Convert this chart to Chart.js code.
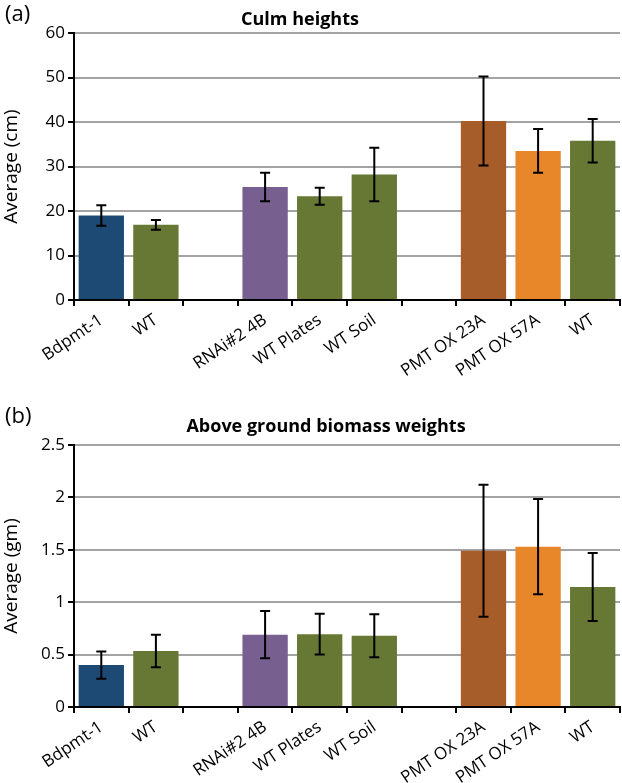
<!DOCTYPE html>
<html lang="en">
<head>
  <meta charset="UTF-8">
  <title>Culm heights and biomass</title>
  <style>
    body {
      margin: 0;
      background: #fff;
      font-family: "Open Sans", Arial, sans-serif;
    }
    .box {
      position: relative;
      width: 622px;
    }
    #boxA { height: 395px; }
    #boxB { height: 388px; }
  </style>
</head>
<body>
  <div class="box" id="boxA"><canvas id="chartA"></canvas></div>
  <div class="box" id="boxB"><canvas id="chartB"></canvas></div>

  <script src="https://cdn.jsdelivr.net/npm/chart.js"></script>
  <script>
    // categories (empty strings are the gaps between groups)
    const lines = ['Bdpmt-1', 'WT', '', 'RNAi#2 4B', 'WT Plates', 'WT Soil', '', 'PMT OX 23A', 'PMT OX 57A', 'WT'];
    const barColors = ['#1d4a74', '#677835', null, '#77608f', '#677835', '#677835', null, '#a65d29', '#e8862a', '#677835'];

    // (a) culm heights, cm
    const culmHeights = [19.0, 16.9, null, 25.4, 23.3, 28.2, null, 40.2, 33.5, 35.8];
    const culmErrors  = [2.3, 1.1, null, 3.2, 1.9, 6.0, null, 10.0, 4.9, 4.9];
    const culmTicks = [0, 10, 20, 30, 40, 50, 60];

    // (b) above ground biomass, gm
    const biomass       = [0.40, 0.535, null, 0.69, 0.695, 0.68, null, 1.49, 1.53, 1.145];
    const biomassErrors = [0.13, 0.155, null, 0.225, 0.195, 0.205, null, 0.63, 0.455, 0.325];
    const biomassTicks = [0, 0.5, 1, 1.5, 2, 2.5];

    const FONT = '"Open Sans", Arial, sans-serif';

    // error bars drawn from the y scale
    const errorBars = {
      id: 'errorBars',
      afterDatasetsDraw(chart, args, opts) {
        const ctx = chart.ctx;
        const y = chart.scales.y;
        const meta = chart.getDatasetMeta(0);
        const vals = chart.data.datasets[0].data;
        ctx.save();
        ctx.strokeStyle = '#000';
        ctx.lineWidth = 2;
        vals.forEach((v, i) => {
          if (v == null) return;
          const e = opts.errors[i];
          const x = meta.data[i].x;
          const top = y.getPixelForValue(v + e);
          const bot = y.getPixelForValue(v - e);
          ctx.beginPath();
          ctx.moveTo(x, top); ctx.lineTo(x, bot);
          ctx.moveTo(x - 5, top); ctx.lineTo(x + 5, top);
          ctx.moveTo(x - 5, bot); ctx.lineTo(x + 5, bot);
          ctx.stroke();
        });
        ctx.restore();
      }
    };

    // panel letter and title
    const headings = {
      id: 'headings',
      afterDraw(chart, args, opts) {
        const ctx = chart.ctx;
        ctx.save();
        ctx.fillStyle = '#000';
        ctx.textBaseline = 'middle';
        ctx.font = '22px ' + FONT;
        ctx.textAlign = 'left';
        ctx.fillText(opts.letter, 5, opts.letterY);
        ctx.font = 'bold 18px ' + FONT;
        ctx.textAlign = 'center';
        ctx.fillText(opts.title, opts.titleX, opts.titleY);
        ctx.restore();
      }
    };

    function makeChart(id, values, errors, ticks, yTitle, letter, title, top, axisH, titleX, titleY, letterY) {
      const maxV = ticks[ticks.length - 1];
      return new Chart(document.getElementById(id), {
        type: 'bar',
        data: {
          labels: lines,
          datasets: [{
            data: values,
            backgroundColor: barColors,
            barPercentage: 0.83,
            categoryPercentage: 1.0
          }]
        },
        options: {
          responsive: true,
          maintainAspectRatio: false,
          animation: false,
          layout: { padding: { top: top, right: 2, left: 0, bottom: 0 } },
          plugins: {
            legend: { display: false },
            tooltip: { enabled: false },
            errorBars: { errors: errors },
            headings: { letter: letter, title: title, titleX: titleX, titleY: titleY, letterY: letterY }
          },
          scales: {
            x: {
              offset: true,
              afterFit: s => { s.height = axisH; },
              grid: {
                display: true,
                drawOnChartArea: false,
                drawTicks: true,
                tickLength: 6,
                color: '#000',
                lineWidth: 2,
                offset: true
              },
              border: { display: true, color: '#000', width: 2 },
              ticks: {
                autoSkip: false,
                maxRotation: 34,
                minRotation: 34,
                color: '#000',
                padding: 4,
                font: { family: FONT, size: 17 }
              }
            },
            y: {
              min: 0,
              max: maxV,
              afterFit: s => { s.width = 74; },
              afterBuildTicks: s => { s.ticks = ticks.map(v => ({ value: v })); },
              grid: {
                color: '#a3a3a3',
                lineWidth: 2,
                tickColor: '#000',
                tickLength: 6,
                drawTicks: true
              },
              border: { display: true, color: '#000', width: 2 },
              ticks: {
                color: '#000',
                padding: 3,
                font: { family: FONT, size: 17 },
                callback: v => String(v)
              },
              title: {
                display: true,
                text: yTitle,
                color: '#000',
                padding: { top: 0, bottom: 0 },
                font: { family: FONT, size: 19 }
              }
            }
          }
        },
        plugins: [errorBars, headings]
      });
    }

    makeChart('chartA', culmHeights, culmErrors, culmTicks, 'Average (cm)', '(a)', 'Culm heights', 33, 95, 300, 20, 15);
    makeChart('chartB', biomass, biomassErrors, biomassTicks, 'Average (gm)', '(b)', 'Above ground biomass weights', 50, 76, 326, 32, 22);
  </script>
</body>
</html>
